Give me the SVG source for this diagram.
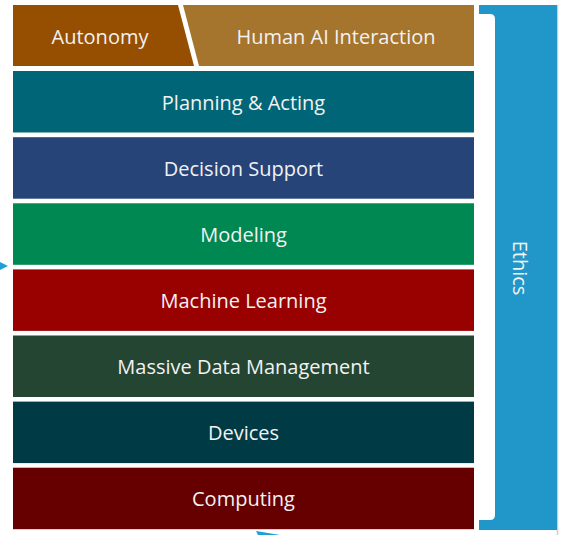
<svg xmlns="http://www.w3.org/2000/svg" width="561" height="535" viewBox="0 0 561 535">
<style>
.lbl{font-family:"Open Sans","Liberation Sans",sans-serif;font-size:20px;fill:#f2f2f2;text-anchor:middle;dominant-baseline:central}
</style>
<rect width="561" height="535" fill="#ffffff"/>
<g id="connectors">
<polygon points="0,262 8,266 0,270" fill="#1e9fd8"/>
<polygon points="256,531 280,535 258,535" fill="#1e9fd8"/>
</g>
<g id="ethics">
<line x1="557.5" y1="5" x2="557.5" y2="535" stroke="#cfcfcf" stroke-width="1.5"/>
<path d="M479,5 H557 V530 H479 V520 H490 Q495,520 495,515 V19 Q495,14 490,14 H479 Z" fill="#2196c8"/>
<text class="lbl" transform="translate(520,268) rotate(90)" fill="#e0f2fb">Ethics</text>
</g>
<g id="autonomy">
<polygon points="13,5 178,5 194,66 13,66" fill="#964f00"/>
<text class="lbl" x="100" y="36">Autonomy</text>
</g>
<g id="human-ai">
<polygon points="183,5 474,5 474,66 199,66" fill="#a5742d"/>
<text class="lbl" x="336" y="36">Human AI Interaction</text>
</g>
<g id="planning">
<rect x="13" y="71" width="461" height="61.5" fill="#006677"/>
<text class="lbl" x="243.5" y="102">Planning &amp; Acting</text>
</g>
<g id="decision">
<rect x="13" y="137.2" width="461" height="61.5" fill="#264478"/>
<text class="lbl" x="243.5" y="168">Decision Support</text>
</g>
<g id="modeling">
<rect x="13" y="203.3" width="461" height="61.5" fill="#008852"/>
<text class="lbl" x="243.5" y="234">Modeling</text>
</g>
<g id="ml">
<rect x="13" y="269.4" width="461" height="61.5" fill="#990000"/>
<text class="lbl" x="243.5" y="300">Machine Learning</text>
</g>
<g id="data">
<rect x="13" y="335.5" width="461" height="61.5" fill="#244532"/>
<text class="lbl" x="243.5" y="366">Massive Data Management</text>
</g>
<g id="devices">
<rect x="13" y="401.6" width="461" height="61.5" fill="#003a44"/>
<text class="lbl" x="243.5" y="432">Devices</text>
</g>
<g id="computing">
<rect x="13" y="467.7" width="461" height="61.5" fill="#660000"/>
<text class="lbl" x="243.5" y="498">Computing</text>
</g>
</svg>
